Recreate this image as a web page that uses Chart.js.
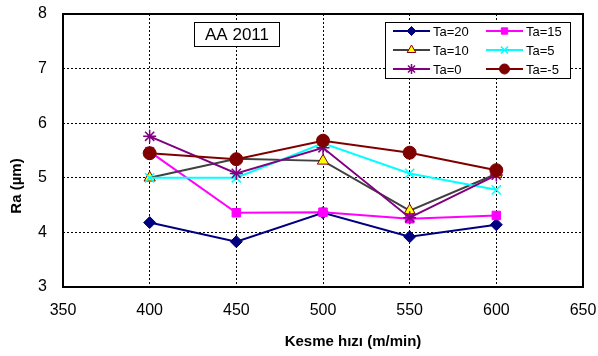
<!DOCTYPE html>
<html lang="tr">
<head>
    <meta charset="UTF-8">
    <title>Ra - Kesme hızı</title>
    <script src="https://cdn.jsdelivr.net/npm/chart.js"></script>
    <style>
        body {
            margin: 0;
            padding: 0;
            background: #fff;
        }
        .wrap {
            width: 598px;
            height: 356px;
        }
    </style>
</head>
<body>
<div class="wrap"><canvas id="raChart" width="598" height="356"></canvas></div>

<script>
    // Cutting speeds (m/min)
    const speeds = [400, 450, 500, 550, 600];

    // Ra (µm) for each Ta
    const ta20 = [4.18, 3.83, 4.36, 3.92, 4.14];
    const ta15 = [5.48, 4.36, 4.37, 4.25, 4.31];
    const ta10 = [5.00, 5.35, 5.31, 4.40, 5.07];
    const ta5 = [5.00, 5.00, 5.63, 5.08, 4.78];
    const ta0 = [5.76, 5.08, 5.55, 4.27, 5.05];
    const taMinus5 = [5.45, 5.34, 5.68, 5.46, 5.14];

    const seriesNames = ['Ta=20', 'Ta=15', 'Ta=10', 'Ta=5', 'Ta=0', 'Ta=-5'];
    const yTicks = [3, 4, 5, 6, 7, 8];
    const xTicks = [350, 400, 450, 500, 550, 600, 650];

    const FONT = "'Liberation Sans', Arial, sans-serif";

    function points(values) {
        return speeds.map((s, i) => ({ x: s, y: values[i] }));
    }

    const styles = [
        { color: '#000080', fill: '#000080', style: 'rectRot', radius: 6, order: 6 },
        { color: '#ff00ff', fill: '#ff00ff', style: 'rect', radius: 6, order: 5 },
        { color: '#404040', fill: '#ffff00', style: 'triangle', radius: 6.5, order: 4, pointBorder: '#800000' },
        { color: '#00ffff', fill: '#00ffff', style: 'crossRot', radius: 6.5, order: 3 },
        { color: '#800080', fill: '#800080', style: 'star', radius: 6.5, order: 2 },
        { color: '#800000', fill: '#800000', style: 'circle', radius: 6.5, order: 1 }
    ];

    const allValues = [ta20, ta15, ta10, ta5, ta0, taMinus5];

    const datasets = allValues.map((vals, i) => ({
        label: seriesNames[i],
        data: points(vals),
        borderColor: styles[i].color,
        backgroundColor: styles[i].fill,
        borderWidth: 2,
        pointStyle: styles[i].style,
        pointRadius: styles[i].radius,
        pointBackgroundColor: styles[i].fill,
        pointBorderColor: styles[i].pointBorder || styles[i].color,
        pointBorderWidth: styles[i].style === 'crossRot' || styles[i].style === 'star' ? 1.5 : 1,
        order: styles[i].order,
        fill: false,
        tension: 0
    }));

    // frame, axis titles, text box and legend
    const decorations = {
        id: 'decorations',
        afterDraw(chart) {
            const ctx = chart.ctx;
            const a = chart.chartArea;
            ctx.save();

            ctx.strokeStyle = '#000';
            ctx.lineWidth = 2;
            ctx.strokeRect(a.left, a.top, a.right - a.left, a.bottom - a.top);

            ctx.fillStyle = '#000';
            ctx.font = 'bold 15px ' + FONT;
            ctx.textAlign = 'center';
            ctx.textBaseline = 'middle';
            ctx.fillText('Kesme hızı (m/min)', 353, 342);

            ctx.save();
            ctx.translate(17, 186);
            ctx.rotate(-Math.PI / 2);
            ctx.fillText('Ra (µm)', 0, 0);
            ctx.restore();

            // AA 2011 box
            ctx.fillStyle = '#fff';
            ctx.fillRect(194, 22, 85, 24);
            ctx.lineWidth = 1;
            ctx.strokeStyle = '#000';
            ctx.strokeRect(194.5, 22.5, 85, 24);
            ctx.fillStyle = '#000';
            ctx.font = '17px ' + FONT;
            ctx.fillText('AA 2011', 237, 35);

            // legend box
            ctx.fillStyle = '#fff';
            ctx.fillRect(385, 22, 185, 56);
            ctx.strokeRect(385.5, 22.5, 185, 56);
            const rows = [31, 50, 69];
            const cols = [393, 486];
            ctx.font = '13px ' + FONT;
            ctx.textAlign = 'left';
            chart.data.datasets.forEach((ds, i) => {
                const x0 = cols[i % 2];
                const y = rows[Math.floor(i / 2)];
                ctx.strokeStyle = ds.borderColor;
                ctx.lineWidth = 2;
                ctx.beginPath();
                ctx.moveTo(x0, y);
                ctx.lineTo(x0 + 37, y);
                ctx.stroke();
                ctx.lineWidth = ds.pointBorderWidth;
                ctx.strokeStyle = ds.pointBorderColor;
                ctx.fillStyle = ds.pointBackgroundColor;
                Chart.helpers.drawPoint(ctx, {
                    pointStyle: ds.pointStyle,
                    radius: ds.pointRadius - 1.5,
                    rotation: 0,
                    borderWidth: ds.pointBorderWidth
                }, x0 + 18.5, y);
                ctx.fillStyle = '#000';
                ctx.fillText(ds.label, x0 + 40, y + 1);
            });

            ctx.restore();
        }
    };

    new Chart(document.getElementById('raChart').getContext('2d'), {
        type: 'line',
        data: { datasets: datasets },
        plugins: [decorations],
        options: {
            responsive: false,
            animation: false,
            layout: { padding: { top: 14, right: 15, left: 0, bottom: 0 } },
            plugins: {
                legend: { display: false },
                tooltip: { enabled: false }
            },
            scales: {
                x: {
                    type: 'linear',
                    min: 350,
                    max: 650,
                    afterFit(scale) {
                        scale.height = 69;
                        scale.paddingLeft = 0;
                        scale.paddingRight = 0;
                    },
                    afterBuildTicks(scale) { scale.ticks = xTicks.map(v => ({ value: v })); },
                    grid: { color: '#000', lineWidth: 1, drawTicks: false },
                    border: { display: false, dash: [2, 2] },
                    ticks: {
                        padding: 14,
                        color: '#000',
                        font: { family: FONT, size: 16 }
                    }
                },
                y: {
                    min: 3,
                    max: 8,
                    afterFit(scale) {
                        scale.width = 63;
                        scale.paddingTop = 0;
                        scale.paddingBottom = 0;
                    },
                    afterBuildTicks(scale) { scale.ticks = yTicks.map(v => ({ value: v })); },
                    grid: { color: '#000', lineWidth: 1, drawTicks: false },
                    border: { display: false, dash: [2, 2] },
                    ticks: {
                        padding: 16,
                        color: '#000',
                        font: { family: FONT, size: 16 }
                    }
                }
            }
        }
    });
</script>
</body>
</html>
